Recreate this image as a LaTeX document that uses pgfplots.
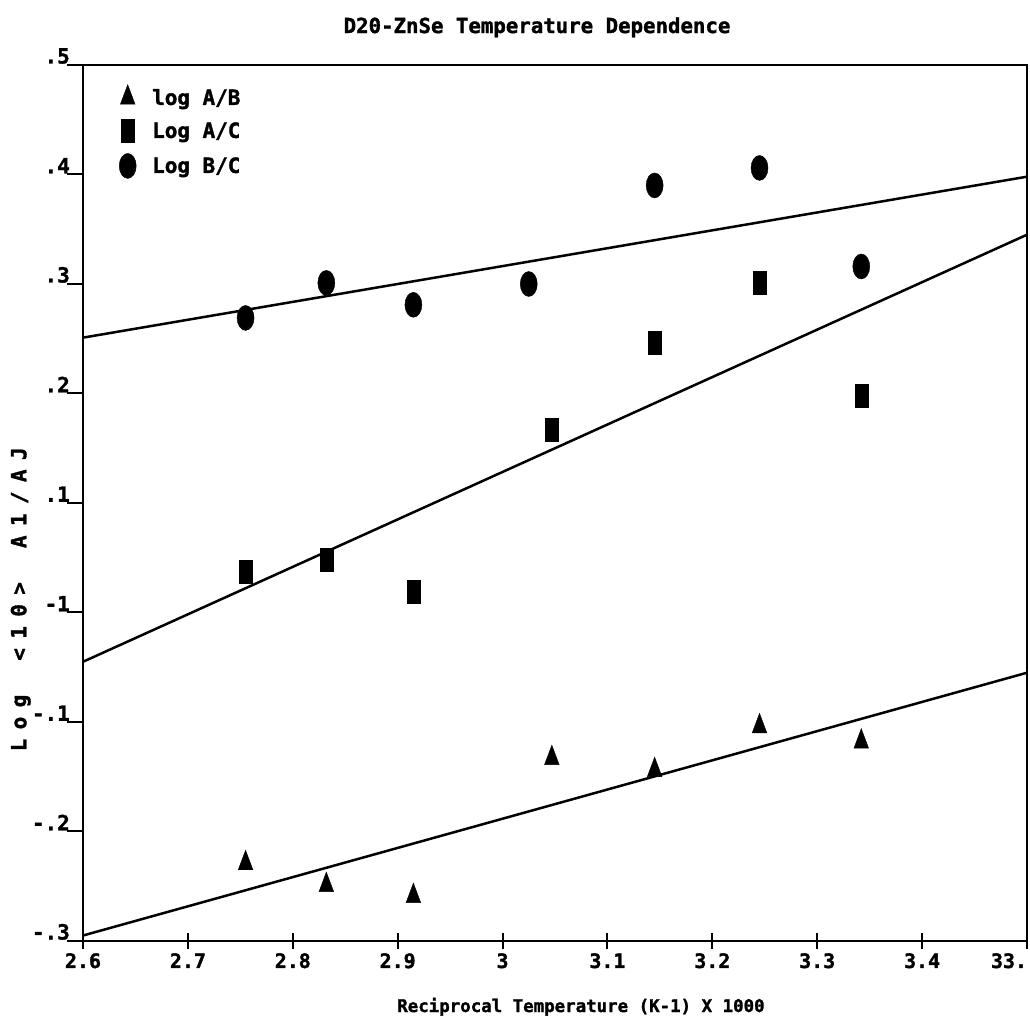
\documentclass[border=0pt]{standalone}
\usepackage{pgfplots}
\pgfplotsset{compat=1.18}
\usepackage{fontspec}
\setmainfont{DejaVu Sans Mono}[BoldFeatures={FakeBold=1.5}]
\begin{document}
\begin{tikzpicture}
\begin{axis}[
  scale only axis, width=944bp, height=876bp,
  xmin=2.6, xmax=3.5, ymin=-0.3, ymax=0.5,
  xtick={2.6,2.7,2.8,2.9,3.0,3.1,3.2,3.3,3.4,3.5},
  xticklabels={2.6,2.7,2.8,2.9,3,3.1,3.2,3.3,3.4,\makebox[0pt][r]{33.}},
  ytick={-0.3,-0.2,-0.1,0,0.1,0.2,0.3,0.4,0.5},
  yticklabels={-.3,-.2,-.1,-1,.1,.2,.3,.4,.5},
  xtick pos=bottom, ytick pos=left,
  xtick align=center, ytick align=outside,
  major tick length=16bp,
  every tick/.style={black, line width=2bp},
  axis line style={line width=2.5bp},
  tick label style={font=\bfseries\fontsize{20}{20}\selectfont},
  yticklabel style={anchor=south east, inner sep=1bp, xshift=4bp, font=\bfseries\fontsize{21}{21}\selectfont},
  xticklabel style={inner sep=4bp},
  title={D20-ZnSe Temperature Dependence},
  title style={at={(axis description cs:0.481,1)}, anchor=base, yshift=26bp, font=\bfseries\fontsize{20.8}{21}\selectfont},
  xlabel={Reciprocal Temperature (K-1) X 1000},
  xlabel style={at={(axis description cs:0.5275,0)}, anchor=base, yshift=-71bp, font=\bfseries\fontsize{17.5}{18}\selectfont},
  ylabel={Log\hspace{34bp}<10>\hspace{34bp}A1/AJ},
  every axis y label/.style={at={(axis description cs:-0.066,0.39)}, rotate=90, anchor=center, font=\bfseries\fontsize{21}{21}\selectfont\addfontfeature{LetterSpace=45}},
  legend style={at={(axis description cs:0.035,0.98)}, anchor=north west, draw=none, fill=none,
    font=\bfseries\fontsize{21}{24}\selectfont, row sep=11bp,
    /tikz/every odd column/.append style={column sep=14bp}},
  legend cell align=left,
  legend image code/.code={\draw[#1] plot coordinates {(0bp,0bp)};},
]
\addplot[only marks, mark=triangle*, mark size=13bp, mark options={xscale=0.65, fill=black, draw=black}]
  coordinates {(2.755,-0.229) (2.832,-0.249) (2.915,-0.259) (3.047,-0.133) (3.145,-0.144) (3.245,-0.104) (3.342,-0.118)};
\addlegendentry{log A/B}
\addplot[only marks, mark=square*, mark size=11.5bp, mark options={xscale=0.57, fill=black, draw=black}]
  coordinates {(2.755,0.037) (2.832,0.048) (2.915,0.019) (3.047,0.167) (3.145,0.246) (3.245,0.301) (3.342,0.198)};
\addlegendentry{Log A/C}
\addplot[only marks, mark=*, mark size=12.5bp, mark options={xscale=0.68, fill=black, draw=black}]
  coordinates {(2.755,0.269) (2.832,0.301) (2.915,0.281) (3.025,0.300) (3.145,0.390) (3.245,0.406) (3.342,0.316)};
\addlegendentry{Log B/C}
\addplot[black, line width=2.5bp, forget plot] coordinates {(2.6,0.251) (3.5,0.398)};
\addplot[black, line width=2.5bp, forget plot] coordinates {(2.6,-0.045) (3.5,0.345)};
\addplot[black, line width=2.5bp, forget plot] coordinates {(2.6,-0.295) (3.5,-0.055)};
\end{axis}
\pgfresetboundingbox
\path[use as bounding box] (-83bp,-83bp) rectangle (947bp,941bp);
\end{tikzpicture}
\end{document}
